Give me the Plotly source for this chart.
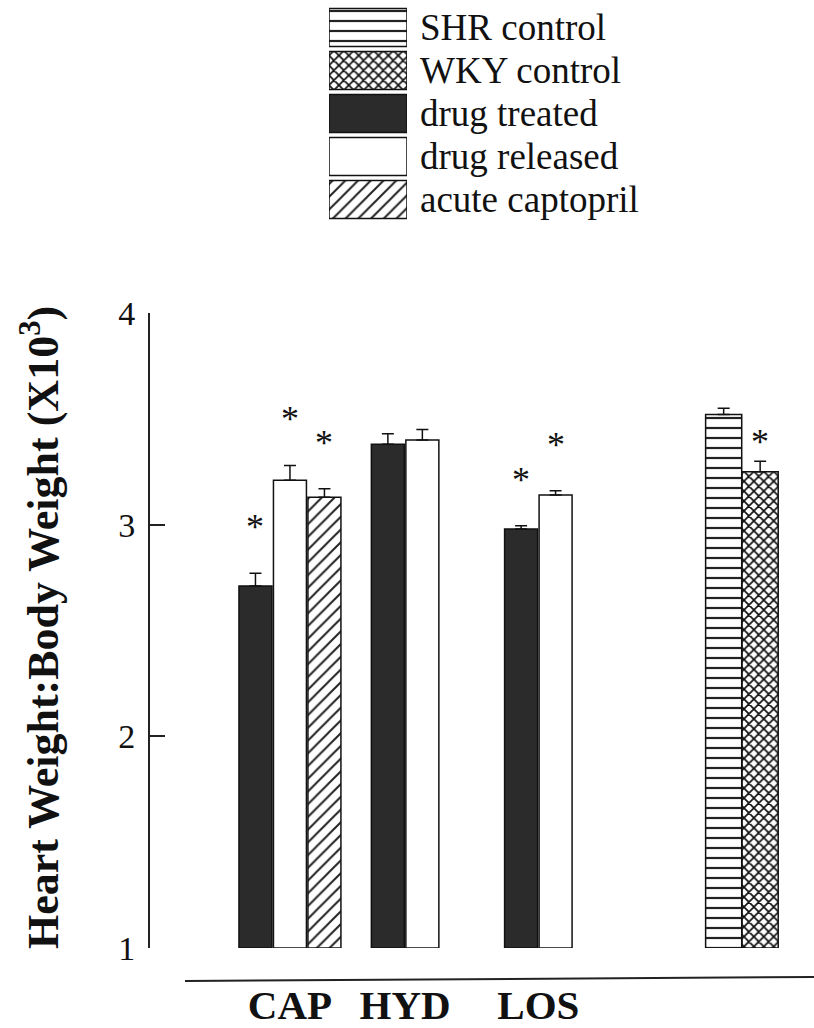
import plotly.graph_objects as go

# ---------------- data ----------------
groups = ["CAP", "HYD", "LOS", "Control"]
group_labels = ["CAP", "HYD", "LOS", ""]

legend_names = ["SHR control", "WKY control", "drug treated", "drug released", "acute captopril"]

treated_groups = ["CAP", "HYD", "LOS"]
treated_mean = [2.71, 3.38, 2.98]
treated_sem = [0.06, 0.05, 0.015]
treated_sig = [True, False, True]

released_groups = ["CAP", "HYD", "LOS"]
released_mean = [3.21, 3.40, 3.14]
released_sem = [0.07, 0.05, 0.02]
released_sig = [True, False, True]

acute_groups = ["CAP"]
acute_mean = [3.13]
acute_sem = [0.04]
acute_sig = [True]

shr_groups = ["Control"]
shr_mean = [3.52]
shr_sem = [0.03]
shr_sig = [False]

wky_groups = ["Control"]
wky_mean = [3.25]
wky_sem = [0.05]
wky_sig = [True]

y_ticks = [1, 2, 3, 4]

# ---------------- layout constants ----------------
W, H = 814, 1028
FONT = "Liberation Serif"
group_pos = {"CAP": 0.0, "HYD": 0.925, "LOS": 1.995, "Control": 3.63}
group_step = {"CAP": 0.277, "HYD": 0.277, "LOS": 0.277, "Control": 0.293}
group_width = {"CAP": 0.265, "HYD": 0.265, "LOS": 0.265, "Control": 0.29}
x_range = [-1.124, 4.209]

styles = {
    "SHR control": dict(color="white", pattern=dict(shape="-", size=10, solidity=0.22, fgcolor="#222", fgopacity=1, bgcolor="white")),
    "WKY control": dict(color="white", pattern=dict(shape="x", size=7, solidity=0.42, fgcolor="#111", fgopacity=1, bgcolor="white")),
    "drug treated": dict(color="#2b2b2b", pattern=None),
    "drug released": dict(color="white", pattern=None),
    "acute captopril": dict(color="white", pattern=dict(shape="/", size=9, solidity=0.22, fgcolor="#222", fgopacity=1, bgcolor="white")),
}
star_shift = {"SHR control": 46, "WKY control": 19, "drug treated": 46,
              "drug released": 46, "acute captopril": 46}

series = [
    ("drug treated", treated_groups, treated_mean, treated_sem, treated_sig),
    ("drug released", released_groups, released_mean, released_sem, released_sig),
    ("acute captopril", acute_groups, acute_mean, acute_sem, acute_sig),
    ("SHR control", shr_groups, shr_mean, shr_sem, shr_sig),
    ("WKY control", wky_groups, wky_mean, wky_sem, wky_sig),
]

# members of each group, in series order
members = {g: [s[0] for s in series if g in s[1]] for g in groups}

fig = go.Figure()
annotations = []

for name, gs, means, sems, sigs in series:
    xs, widths = [], []
    for g in gs:
        n = len(members[g])
        k = members[g].index(name)
        xs.append(group_pos[g] + (k - (n - 1) / 2) * group_step[g])
        widths.append(group_width[g])
    st = styles[name]
    marker = dict(color=st["color"], line=dict(color="#111", width=1.5))
    if st["pattern"]:
        marker["pattern"] = st["pattern"]
    fig.add_trace(go.Bar(
        x=xs, y=[m - 1 for m in means], base=1, width=widths,
        marker=marker, name=name, showlegend=False,
        error_y=dict(type="data", symmetric=False, array=sems,
                     arrayminus=[0] * len(sems), color="#111",
                     thickness=1.5, width=6),
        xaxis="x", yaxis="y",
    ))
    for x, m, s, sig in zip(xs, means, sems, sigs):
        if sig:
            annotations.append(dict(
                x=x, y=m + s, xref="x", yref="y", text="*", showarrow=False,
                xanchor="center", yanchor="middle", yshift=star_shift[name],
                font=dict(family=FONT, size=36, color="#111")))

# ---------------- legend drawn as a small bar chart ----------------
for name in legend_names:
    st = styles[name]
    marker = dict(color=st["color"], line=dict(color="#111", width=1.5))
    if st["pattern"]:
        marker["pattern"] = st["pattern"]
    fig.add_trace(go.Bar(
        x=[1], y=[name], orientation="h", width=0.88, marker=marker,
        showlegend=False, xaxis="x2", yaxis="y2", hoverinfo="skip"))

# y-axis title
annotations.append(dict(
    x=40 / W, y=1 - 628 / H, xref="paper", yref="paper",
    xanchor="center", yanchor="middle",
    text="<b>Heart Weight:Body Weight (X10<sup>3</sup>)</b>", textangle=-90,
    showarrow=False, font=dict(family=FONT, size=44, color="#111")))

fig.update_layout(
    width=W, height=H, margin=dict(l=0, r=0, t=0, b=0, autoexpand=False),
    paper_bgcolor="white", plot_bgcolor="white",
    barmode="overlay", showlegend=False,
    xaxis=dict(domain=[150 / W, 1], range=x_range, showgrid=False, zeroline=False,
               showline=False, ticks="", automargin=False,
               tickmode="array",
               tickvals=[group_pos[g] for g in groups],
               ticktext=[f"<b>{t}</b>" if t else "" for t in group_labels],
               tickfont=dict(family=FONT, size=41, color="#111"),
               ticklabelstandoff=29),
    yaxis=dict(domain=[1 - 948 / H, 1 - 313 / H], range=[1, 4], showgrid=False,
               zeroline=False, showline=True, linecolor="#222", linewidth=2,
               ticks="inside", ticklen=15, tickwidth=1.5, tickcolor="#222",
               automargin=False, tickmode="array",
               tickvals=y_ticks, ticktext=[str(t) for t in y_ticks],
               tickfont=dict(family=FONT, size=34, color="#111"),
               ticklabelstandoff=6),
    xaxis2=dict(domain=[329 / W, 407 / W], range=[0, 1], visible=False,
                anchor="y2", automargin=False),
    yaxis2=dict(domain=[1 - 221 / H, 1 - 6 / H], anchor="x2", side="right",
                type="category", autorange="reversed", showgrid=False,
                zeroline=False, showline=False, ticks="",
                tickmode="array", tickvals=legend_names, ticktext=legend_names,
                ticklabelstandoff=12, automargin=False,
                tickfont=dict(family=FONT, size=37, color="#111")),
    annotations=annotations,
    shapes=[dict(type="line", xref="paper", yref="paper",
                 x0=185 / W, x1=1, y0=1 - 981 / H, y1=1 - 977 / H,
                 line=dict(color="#222", width=2))],
)

fig.write_html("out.html")
